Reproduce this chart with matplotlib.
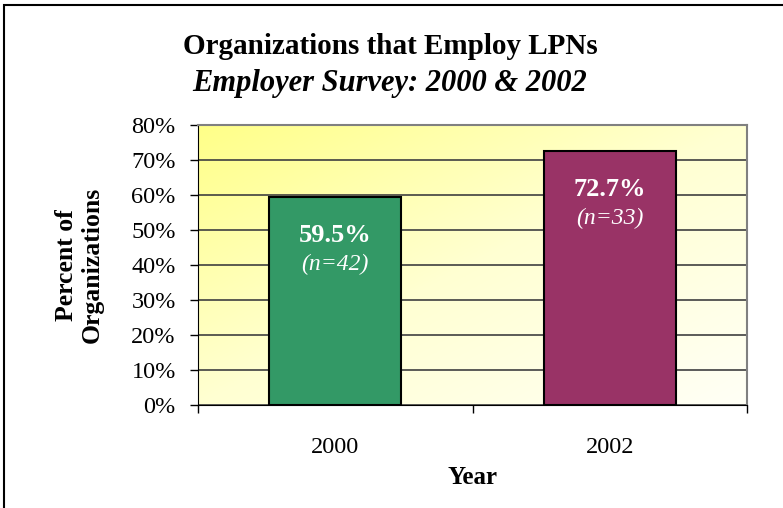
import numpy as np
import matplotlib.pyplot as plt
from matplotlib.colors import LinearSegmentedColormap
from matplotlib.patches import Rectangle

plt.rcParams['font.family'] = ['Liberation Serif', 'DejaVu Serif']

# Survey results
years = ['2000', '2002']
percents = [59.5, 72.7]
counts = [42, 33]
bar_colors = ['#339966', '#993366']

fig = plt.figure(figsize=(7.83, 5.08), dpi=100)
ax = fig.add_axes([0.2529, 0.2028, 0.7011, 0.5512])

# Diagonal yellow-to-white background for the plot area (yellow at top left)
gx, gy = np.meshgrid(np.linspace(0, 1, 200), np.linspace(0, 1, 200))
grad = (gx + gy) / 2.0
bg = LinearSegmentedColormap.from_list('bg', ['#ffff88', '#ffffd2', '#fffff6'])
ax.imshow(grad, cmap=bg, extent=[-0.5, 1.5, 0, 80], origin='upper', aspect='auto', zorder=0)

x = np.arange(len(years))
ax.bar(x, percents, width=0.48, color=bar_colors, edgecolor='black', linewidth=1.5, zorder=3)

for xi, p, n in zip(x, percents, counts):
    ax.annotate(f'{p:.1f}%', (xi, p), xytext=(0, -28), textcoords='offset points',
                ha='center', va='center', color='white', fontsize=19, fontweight='bold', zorder=4)
    ax.annotate(f'(n={n})', (xi, p), xytext=(0, -49), textcoords='offset points',
                ha='center', va='center', color='white', fontsize=17, fontstyle='italic', zorder=4)

ax.set_xlim(-0.5, 1.5)
ax.set_ylim(0, 80)
ax.set_yticks(np.arange(0, 81, 10))
ax.set_yticklabels([f'{v}%' for v in range(0, 81, 10)], fontsize=17.5)
ax.yaxis.grid(True, color='#404040', linewidth=1.2, zorder=1)
ax.set_axisbelow(True)

ax.set_xticks([-0.5, 0.5, 1.5])
ax.set_xticklabels([])
ax.set_xticks(x, minor=True)
ax.set_xticklabels(years, minor=True, fontsize=17.5)
ax.tick_params(axis='x', which='minor', length=0, pad=23)
ax.tick_params(axis='y', which='major', direction='out', length=6, width=1, pad=10)
ax.tick_params(axis='x', which='major', direction='out', length=6, width=1)

ax.spines['left'].set_color('black')
ax.spines['bottom'].set_color('black')
for s in ['top', 'right']:
    ax.spines[s].set_color('#808080')
    ax.spines[s].set_linewidth(1.5)

ax.set_xlabel('Year', fontsize=18, fontweight='bold', labelpad=6)
ax.set_ylabel('Percent of\nOrganizations', fontsize=18.5, fontweight='bold', labelpad=20,
              linespacing=1.15)

fig.text(0.498, 0.909, 'Organizations that Employ LPNs', ha='center', va='center',
         fontsize=21, fontweight='bold')
fig.text(0.498, 0.836, 'Employer Survey: 2000 & 2002', ha='center', va='center',
         fontsize=22, fontweight='bold', fontstyle='italic')

# Outer frame
fig.patches.append(Rectangle((4 / 783, -0.1), 1.2, 1.1 - 5 / 508,
                             transform=fig.transFigure, fill=False,
                             edgecolor='black', linewidth=1.5))

fig.savefig('out.png', dpi=100)
